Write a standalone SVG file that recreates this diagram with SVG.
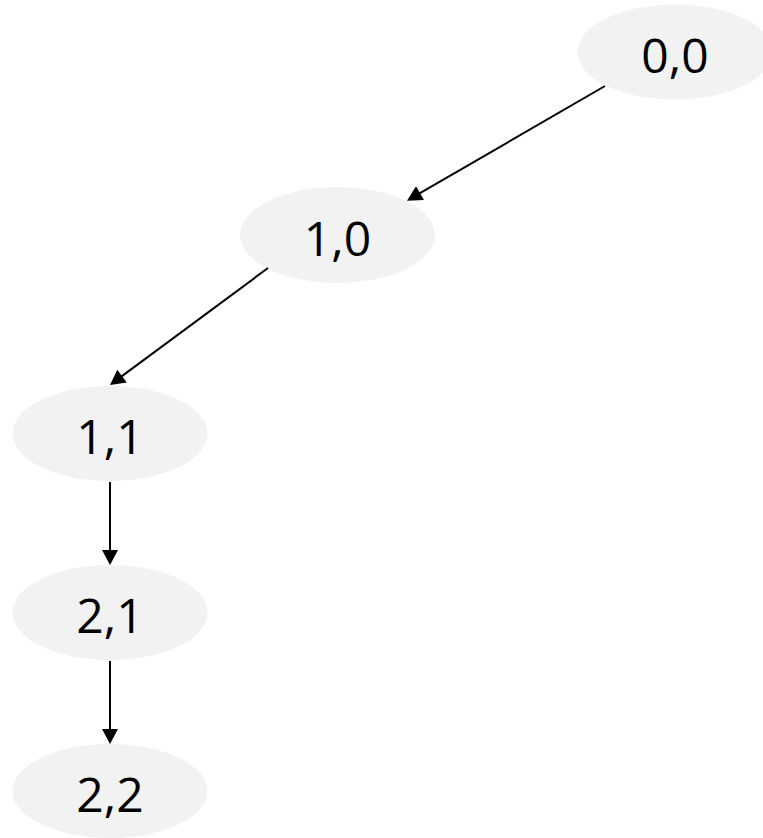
<svg xmlns="http://www.w3.org/2000/svg" width="763" height="838" viewBox="0 0 763 838">
<style>
.node ellipse{fill:#f2f2f2;stroke:none}
.node text{font-family:"Open Sans","Liberation Sans",sans-serif;font-size:48px;fill:#000;text-anchor:middle;dominant-baseline:central}
.edge{stroke:#000;stroke-width:2;fill:none;marker-end:url(#arrow)}
</style>
<defs>
<marker id="arrow" markerUnits="userSpaceOnUse" markerWidth="16" markerHeight="16" viewBox="0 0 15 16" refX="1" refY="8" orient="auto">
<path d="M0,0 L15,8 L0,16 z" fill="#000"/>
</marker>
</defs>
<rect width="763" height="838" fill="#fff"/>
<g id="n00" class="node"><ellipse cx="675" cy="52" rx="97.5" ry="47.5"/><text x="675" y="54">0,0</text></g>
<g id="n10" class="node"><ellipse cx="337.5" cy="235" rx="97.5" ry="48"/><text x="337.5" y="237">1,0</text></g>
<g id="n11" class="node"><ellipse cx="110" cy="433.5" rx="97.5" ry="47.5"/><text x="110" y="435">1,1</text></g>
<g id="n21" class="node"><ellipse cx="110" cy="612.5" rx="97.5" ry="47.5"/><text x="110" y="614">2,1</text></g>
<g id="n22" class="node"><ellipse cx="110" cy="791" rx="97.5" ry="47"/><text x="110" y="793">2,2</text></g>
<g id="connectors">
<line class="edge" x1="605" y1="86" x2="419.1" y2="193.7"/>
<line class="edge" x1="268" y1="268" x2="121.25" y2="376.67"/>
<line class="edge" x1="110" y1="482" x2="110" y2="551"/>
<line class="edge" x1="110" y1="661" x2="110" y2="730"/>
</g>
</svg>
